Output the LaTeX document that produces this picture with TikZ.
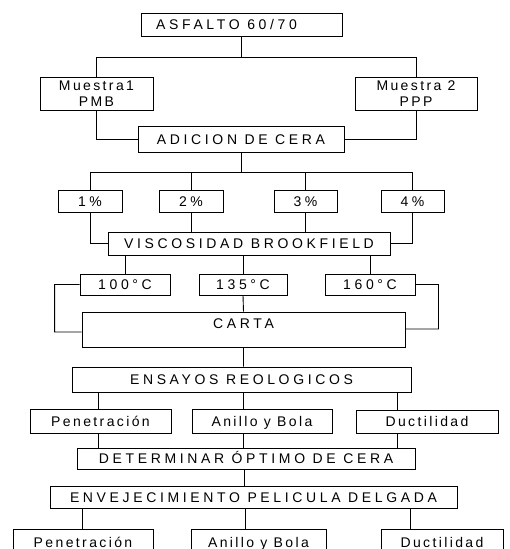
\documentclass[tikz,border=0pt]{standalone}
\usepackage{fontspec}
\newfontfamily\flowfont{Liberation Sans}[LetterSpace=26]
\newfontfamily\flowfontlc{Liberation Sans}[LetterSpace=17]
\begin{document}
\begin{tikzpicture}[x=1pt, y=-1pt, line width=0.9pt,
		caja/.style={draw, inner sep=0pt, align=center, text height=11pt, text depth=1pt, font=\flowfont\fontsize{14}{16}\selectfont},
		cajalc/.style={caja, font=\flowfontlc\fontsize{14}{16}\selectfont}]
				\useasboundingbox (0,0) rectangle (509,549);
				\clip (0,0) rectangle (509,549);
				\path (241.5,24.5) node[caja, minimum width=201, minimum height=23] (asfalto){ASFALTO 60/70\hspace*{30pt}}
				(96.5,93.5) node[cajalc, minimum width=113, minimum height=33, text height=, text depth=] (m1){Muestra1\\PMB}
				(416,93.5) node[cajalc, minimum width=122, minimum height=33, text height=, text depth=] (m2){Muestra 2\\PPP}
				(241,139) node[caja, minimum width=206, minimum height=26] (adicion){ADICION DE CERA}
				(90,201) node[caja, minimum width=64, minimum height=22] (p1){1\%}
				(191,201) node[caja, minimum width=64, minimum height=22] (p2){2\%}
				(305.5,201) node[caja, minimum width=63, minimum height=22] (p3){3\%}
				(412.5,201) node[caja, minimum width=63, minimum height=22] (p4){4\%}
				(249,243.5) node[caja, minimum width=282, minimum height=23] (visc){VISCOSIDAD BROOKFIELD}
				(125,284.5) node[caja, minimum width=90, minimum height=21] (t100){100°C}
				(243,284.5) node[caja, minimum width=88, minimum height=21] (t135){135°C}
				(370,284.5) node[caja, minimum width=90, minimum height=21] (t160){160°C}
				(243.5,329.5) node[caja, minimum width=323, minimum height=35, text depth=13pt] (carta){CARTA}
				(241.5,379.5) node[caja, minimum width=339, minimum height=25] (ensayos){ENSAYOS REOLOGICOS}
				(100.5,421) node[cajalc, minimum width=141, minimum height=24] (pen1){Penetración}
				(262,421) node[cajalc, minimum width=140, minimum height=24] (ani1){Anillo y Bola}
				(427,421.5) node[cajalc, minimum width=142, minimum height=23] (duc1){Ductilidad}
				(246,458.5) node[caja, minimum width=338, minimum height=21] (optimo){DETERMINAR ÓPTIMO DE CERA}
				(253.5,497) node[caja, minimum width=407, minimum height=22] (rtfo){ENVEJECIMIENTO PELICULA DELGADA}
				(83,542) node[cajalc, minimum width=140, minimum height=26] (pen2){Penetración}
				(258.5,542) node[cajalc, minimum width=135, minimum height=26] (ani2){Anillo y Bola}
				(442,542) node[cajalc, minimum width=122, minimum height=26] (duc2){Ductilidad};
				
				\draw (asfalto.south) -- ++(0,21) -| (m1.north)
				(asfalto.south) -- ++(0,21) -| (m2.north)
				(m1.south) |- (adicion.west)
				(m2.south) |- (adicion.east);
				\foreach \p in {p1,p2,p3,p4}
					\draw (adicion.south) -- ++(0,20) -| (\p.north);
				\draw (p1.south) |- (visc.west)
				(p4.south) |- (visc.east)
				(p2.south) -- (p2.south |- visc.north)
				(p3.south) -- (p3.south |- visc.north);
				\foreach \t in {t100,t135,t160}
					\draw (visc.south -| \t.north) -- (\t.north);
				\draw (t100.west) -- ++(-25,0) |- ([yshift=-2.5pt]carta.west)
				(t160.east) -- ++(23,0) |- ([yshift=0.5pt]carta.east)
				(t135.south) -- (carta.north)
				(carta.south) -- (carta.south |- ensayos.north);
				\foreach \x/\n in {98/pen1,243/ani1,397/duc1}
					\draw (ensayos.south -| \x,0) -- (\n.north -| \x,0)
					(\n.south -| \x,0) -- (optimo.north -| \x,0);
				\draw (optimo.south -| 244,0) -- (rtfo.north -| 244,0);
				\foreach \x/\n in {82/pen2,245/ani2,410/duc2}
					\draw (rtfo.south -| \x,0) -- (\n.north -| \x,0);
			\end{tikzpicture}
\end{document}
